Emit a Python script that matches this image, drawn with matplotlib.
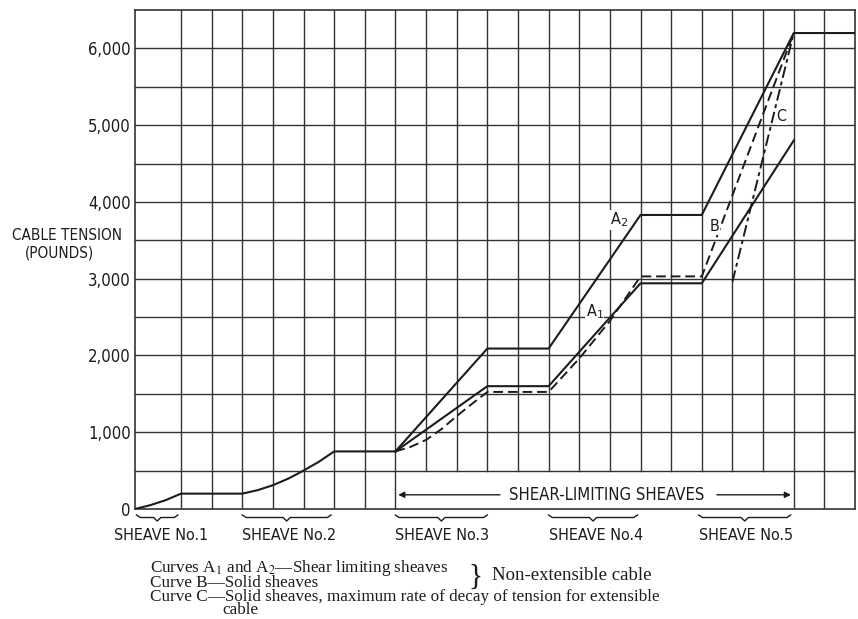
import matplotlib.pyplot as plt
import numpy as np

# шрифты: узкий рубленый для подписей, с засечками для пояснений
SANS = dict(family='DejaVu Sans', stretch='condensed')
SERIF = ['Liberation Serif', 'DejaVu Serif']
INK = '#1c1c1c'

# общий участок (шкивы 1 и 2)
common_x = [0, 0.5, 1.0, 1.5, 3.5, 4.0, 4.5, 5.0, 5.5, 6.0, 6.5, 8.5]
common_y = [0, 50, 115, 200, 200, 245, 310, 395, 500, 615, 750, 750]

# кривые A1, A2 (сплошные), B и C (штриховые)
a2_x = [8.5, 11.5, 13.5, 16.5, 18.5, 21.5, 23.5]
a2_y = [750, 2090, 2090, 3830, 3830, 6200, 6200]
a1_x = [8.5, 11.5, 13.5, 16.5, 18.5, 21.5]
a1_y = [750, 1600, 1600, 2940, 2940, 4800]
b_x = [8.5, 9.0, 9.5, 10.0, 10.5, 11.0, 11.5, 13.5, 14.5, 15.5, 16.5, 18.5, 21.5]
b_y = [750, 810, 900, 1040, 1210, 1370, 1525, 1525, 1960, 2450, 3030, 3030, 6200]
c_x = [19.5, 21.5]
c_y = [2960, 6200]

# подписи кривых
curve_labels = ['A$_2$', 'A$_1$', 'B', 'C']
label_x = [15.8, 15.0, 18.9, 21.1]
label_y = [3770, 2570, 3680, 5110]

# шкивы
sheave_names = ['SHEAVE No.1', 'SHEAVE No.2', 'SHEAVE No.3', 'SHEAVE No.4', 'SHEAVE No.5']
sheave_start = [0.05, 3.5, 8.5, 13.5, 18.4]
sheave_end = [1.4, 6.4, 11.5, 16.4, 21.4]

yticks = [0, 1000, 2000, 3000, 4000, 5000, 6000]
ytick_labels = ['0', '1,000', '2,000', '3,000', '4,000', '5,000', '6,000']
grid_x = np.arange(1.5, 23.0, 1.0)
grid_y = np.arange(500, 6001, 500)
band = (8.5, 21.5)

fig = plt.figure(figsize=(8.58, 6.19), dpi=100)
ax = fig.add_axes([135 / 858, 1 - 509 / 619, 720 / 858, 499 / 619])
ax.set_xlim(0, 23.5)
ax.set_ylim(0, 6500)

# сетка: внутри полосы "shear-limiting" вертикали обрываются на 500
for gx in grid_x:
    y0 = 500 if band[0] < gx < band[1] else 0
    ax.plot([gx, gx], [y0, 6500], color='#333333', lw=1.0, zorder=1)
for gy in grid_y:
    ax.axhline(gy, color='#333333', lw=1.0, zorder=1)
for s in ax.spines.values():
    s.set_color('#333333')
    s.set_linewidth(1.2)

ax.plot(common_x, common_y, color=INK, lw=1.5, zorder=3)
ax.plot(a2_x, a2_y, color=INK, lw=1.5, zorder=3)
ax.plot(a1_x, a1_y, color=INK, lw=1.5, zorder=3)
ax.plot(b_x, b_y, color=INK, lw=1.4, dashes=(5, 2.5), zorder=3)
ax.plot(c_x, c_y, color=INK, lw=1.4, dashes=(6, 2, 2, 2), zorder=3)

for t, lx, ly in zip(curve_labels, label_x, label_y):
    ax.text(lx, ly, t, **SANS, fontsize=11.5, color=INK, ha='center', va='center',
            zorder=4, bbox=dict(fc='white', ec='none', pad=0.5))

# полоса со стрелками
ax.text(15.4, 185, 'SHEAR-LIMITING SHEAVES', **SANS, fontsize=12, color=INK,
        ha='center', va='center')
arrow = dict(arrowstyle='-|>', color=INK, lw=1.0, mutation_scale=9)
ax.annotate('', xy=(band[0], 185), xytext=(12.0, 185), arrowprops=arrow)
ax.annotate('', xy=(band[1], 185), xytext=(18.9, 185), arrowprops=arrow)

# оси
ax.set_xticks([])
ax.set_yticks(yticks)
ax.set_yticklabels(ytick_labels, **SANS, fontsize=12, color=INK)
ax.tick_params(axis='y', length=0, pad=3)
fig.text(67 / 858, 1 - 236 / 619, 'CABLE TENSION', **SANS, fontsize=11,
         color=INK, ha='center', va='center')
fig.text(59 / 858, 1 - 253 / 619, '(POUNDS)', **SANS, fontsize=11,
         color=INK, ha='center', va='center')

# фигурные скобки под шкивами
tr = ax.get_xaxis_transform()
px = 1 / 499  # один пиксель в долях высоты осей
for name, s0, s1 in zip(sheave_names, sheave_start, sheave_end):
    mid = (s0 + s1) / 2
    d = 0.12
    bx = [s0, s0 + d, mid - d, mid, mid + d, s1 - d, s1]
    by = [-6 * px, -8.5 * px, -8.5 * px, -12 * px, -8.5 * px, -8.5 * px, -6 * px]
    ax.plot(bx, by, color=INK, lw=1.0, transform=tr, clip_on=False)
    if s0 < 1:
        ax.text(0.85, -26 * px, name, **SANS, fontsize=11.5, color=INK,
                transform=tr, ha='center', va='center', clip_on=False)
    else:
        ax.text(s0, -26 * px, name, **SANS, fontsize=11.5, color=INK,
                transform=tr, ha='left', va='center', clip_on=False)

# пояснения
fs = 12.3
fig.text(150 / 858, 1 - 568.5 / 619, 'Curves A$_1$ and A$_2$\u2014Shear limiting sheaves',
         family=SERIF, fontsize=fs, color=INK, va='center', math_fontfamily='stix')
fig.text(150 / 858, 1 - 583 / 619, 'Curve B\u2014Solid sheaves',
         family=SERIF, fontsize=fs, color=INK, va='center')
fig.text(150 / 858, 1 - 597 / 619,
         'Curve C\u2014Solid sheaves, maximum rate of decay of tension for extensible',
         family=SERIF, fontsize=fs, color=INK, va='center')
fig.text(222 / 858, 1 - 610.5 / 619, 'cable', family=SERIF, fontsize=fs, color=INK,
         va='center')
fig.text(475 / 858, 1 - 576.5 / 619, '}', family=SERIF, fontsize=21, color=INK,
         va='center', ha='center')
fig.text(492 / 858, 1 - 576 / 619, 'Non-extensible cable', family=SERIF, fontsize=13.5,
         color=INK, va='center')

fig.savefig('out.png', dpi=100)
